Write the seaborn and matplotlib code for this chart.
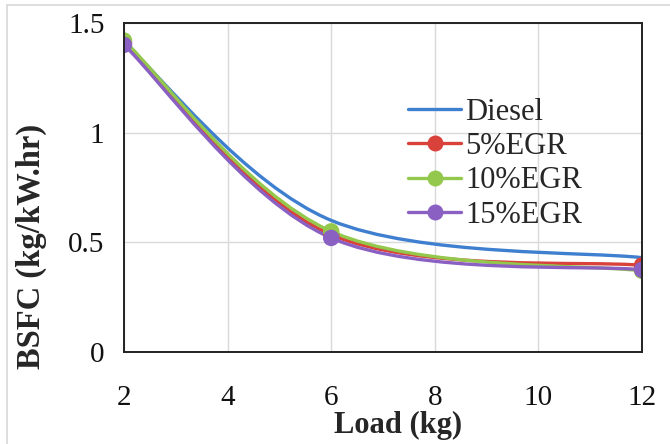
import numpy as np
import pandas as pd
import matplotlib
matplotlib.use("Agg")
import matplotlib.pyplot as plt
import seaborn as sns
from matplotlib.path import Path
from matplotlib.patches import PathPatch
from matplotlib.lines import Line2D

# ---- data ----
loads = [2, 6, 12]
diesel = [1.41, 0.60, 0.43]
egr5 = [1.41, 0.535, 0.395]
egr10 = [1.42, 0.55, 0.37]
egr15 = [1.40, 0.52, 0.375]
series_names = ["Diesel", "5%EGR", "10%EGR", "15%EGR"]
x_ticks = [2, 4, 6, 8, 10, 12]
y_ticks = [0, 0.5, 1, 1.5]
y_tick_labels = ["0", "0.5", "1", "1.5"]

colors = {"Diesel": "#3f7fcf", "5%EGR": "#d9413b", "10%EGR": "#93c84c", "15%EGR": "#8a60c2"}
has_marker = {"Diesel": False, "5%EGR": True, "10%EGR": True, "15%EGR": True}

df = pd.DataFrame({
    "Load": loads * 4,
    "BSFC": diesel + egr5 + egr10 + egr15,
    "Series": [n for n in series_names for _ in loads],
})

sns.set_theme(style="white")
plt.rcParams["font.family"] = ["Liberation Serif", "DejaVu Serif"]

fig = plt.figure(figsize=(6.70, 4.44), dpi=100)
ax = fig.add_axes([124 / 670, 1 - 352 / 444, (642 - 124) / 670, (352 - 23) / 444])


def smooth_path(xs, ys):
    """Excel-style smoothed line: cubic Bezier segments through the data points."""
    pts = np.column_stack([xs, ys]).astype(float)
    n = len(pts)
    verts = [tuple(pts[0])]
    codes = [Path.MOVETO]
    for i in range(n - 1):
        p0 = pts[i - 1] if i > 0 else pts[i]
        p1 = pts[i]
        p2 = pts[i + 1]
        p3 = pts[i + 2] if i + 2 < n else pts[i + 1]
        c1 = p1 + (p2 - p0) / 6.0
        c2 = p2 - (p3 - p1) / 6.0
        verts += [tuple(c1), tuple(c2), tuple(p2)]
        codes += [Path.CURVE4] * 3
    return Path(verts, codes)


for k, name in enumerate(series_names):
    sub = df[df["Series"] == name]
    patch = PathPatch(smooth_path(sub["Load"].values, sub["BSFC"].values),
                      facecolor="none", edgecolor=colors[name], lw=2.4,
                      zorder=3 + k, capstyle="round")
    ax.add_patch(patch)

for k, name in enumerate(series_names):
    if not has_marker[name]:
        continue
    sub = df[df["Series"] == name]
    sns.scatterplot(data=sub, x="Load", y="BSFC", color=colors[name], s=140,
                    edgecolor="none", ax=ax, zorder=10 + k, legend=False)

ax.set_xlim(2, 12)
ax.set_ylim(0, 1.5)
ax.set_xticks(x_ticks)
ax.set_xticklabels([str(t) for t in x_ticks])
ax.set_yticks(y_ticks)
ax.set_yticklabels(y_tick_labels)
ax.tick_params(axis="x", length=0, pad=24, labelsize=21, colors="#111111")
ax.tick_params(axis="y", length=0, pad=14, labelsize=21, colors="#111111")
ax.grid(True, color="#d9d9d9", lw=1.0)
ax.set_axisbelow(True)
for sp in ax.spines.values():
    sp.set_visible(True)
    sp.set_color("#222222")
    sp.set_linewidth(1.4)
    sp.set_zorder(20)

ax.set_xlabel("Load (kg)", fontsize=22, fontweight="bold")
ax.xaxis.set_label_coords((398 - 124) / 518, -0.178)
ax.set_ylabel("BSFC (kg/kW.hr)", fontsize=23.5, fontweight="bold")
ax.yaxis.set_label_coords((47 - 124) / 518, 0.32)

handles = []
for name in series_names:
    handles.append(Line2D([], [], color=colors[name], lw=2.4,
                          marker="o" if has_marker[name] else None,
                          markersize=11.5, markeredgewidth=0))
leg = fig.legend(handles, series_names, loc="upper left",
                 bbox_to_anchor=(408 / 670, 1 - 98 / 444), frameon=False,
                 fontsize=22, handlelength=1.75, handletextpad=0.12,
                 labelspacing=0.17, borderpad=0, borderaxespad=0)

# light outline of the chart area (top and left edges)
fig.add_artist(Line2D([7 / 670, 1], [1 - 5 / 444, 1 - 5 / 444], color="#d8d8d8", lw=1.2))
fig.add_artist(Line2D([7 / 670, 7 / 670], [0, 1 - 5 / 444], color="#d8d8d8", lw=1.2))

fig.savefig("out.png", dpi=100)
